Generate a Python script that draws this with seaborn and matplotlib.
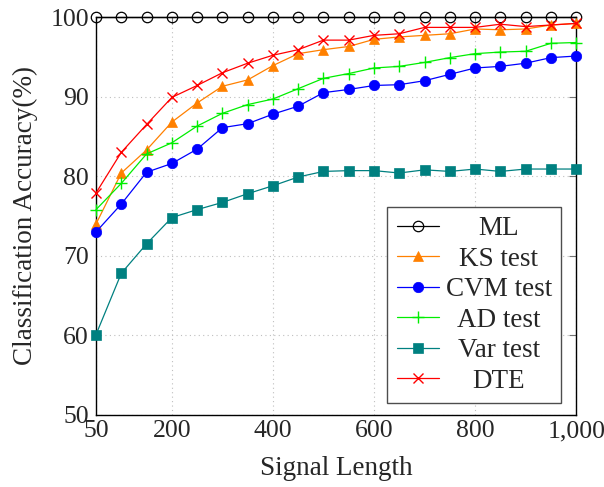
import matplotlib
matplotlib.use("Agg")
import matplotlib.pyplot as plt
import seaborn as sns
import pandas as pd

signal_length = [50, 100, 150, 200, 250, 300, 350, 400, 450, 500,
                 550, 600, 650, 700, 750, 800, 850, 900, 950, 1000]
ml = [100] * 20
ks = [74.0, 80.4, 83.3, 86.8, 89.2, 91.3, 92.1, 93.9, 95.4, 95.9,
      96.3, 97.2, 97.5, 97.7, 97.9, 98.5, 98.4, 98.5, 99.0, 99.2]
cvm = [73.0, 76.5, 80.5, 81.6, 83.4, 86.1, 86.6, 87.8, 88.8, 90.5,
       90.9, 91.4, 91.5, 92.0, 92.8, 93.6, 93.8, 94.2, 94.9, 95.1]
ad = [75.8, 79.1, 82.8, 84.2, 86.3, 87.9, 89.0, 89.7, 91.0, 92.3,
      92.9, 93.6, 93.8, 94.3, 94.9, 95.4, 95.6, 95.7, 96.7, 96.8]
var = [60.1, 67.8, 71.5, 74.8, 75.8, 76.7, 77.8, 78.8, 79.9, 80.6,
       80.7, 80.7, 80.4, 80.8, 80.6, 80.9, 80.6, 80.9, 80.9, 80.9]
dte = [77.9, 83.0, 86.5, 89.9, 91.4, 93.0, 94.2, 95.2, 95.9, 97.1,
       97.1, 97.7, 97.9, 98.7, 98.7, 98.7, 99.1, 98.8, 99.0, 99.2]

series_names = ["ML", "KS test", "CVM test", "AD test", "Var test", "DTE"]
series_values = [ml, ks, cvm, ad, var, dte]
x_ticks = [50, 200, 400, 600, 800, 1000]
x_tick_labels = ["50", "200", "400", "600", "800", "1,000"]
y_ticks = [50, 60, 70, 80, 90, 100]

sns.set_style("white")
plt.rcParams["font.family"] = ["Liberation Serif", "DejaVu Serif"]
plt.rcParams["mathtext.fontset"] = "dejavuserif"

styles = {
    "ML": dict(color="#000000", marker="o", mfc="none", ms=7.5, mew=0.9),
    "KS test": dict(color="#ff8000", marker="^", mfc="#ff8000", ms=7.5, mew=0.5),
    "CVM test": dict(color="#0000ff", marker="o", mfc="#0000ff", ms=7.5, mew=0.5),
    "AD test": dict(color="#00ee00", marker="+", mfc="#00ee00", ms=9, mew=1.0),
    "Var test": dict(color="#008080", marker="s", mfc="#008080", ms=7.5, mew=0.5),
    "DTE": dict(color="#ff0000", marker="x", mfc="#ff0000", ms=7, mew=1.0),
}

fig = plt.figure(figsize=(6.04, 4.87), dpi=100)
ax = fig.add_axes([0.159, 0.148, 0.795, 0.817])

for name, vals in zip(series_names, series_values):
    df = pd.DataFrame({"x": signal_length, "y": vals})
    st = styles[name]
    sns.lineplot(data=df, x="x", y="y", ax=ax, label=name,
                 color=st["color"], marker=st["marker"],
                 markerfacecolor=st["mfc"], markeredgecolor=st["color"],
                 markersize=st["ms"], markeredgewidth=st["mew"],
                 linewidth=0.9, clip_on=False, zorder=3)

ax.set_xlim(50, 1000)
ax.set_ylim(50, 100)
ax.set_xticks(x_ticks)
ax.set_xticklabels(x_tick_labels)
ax.set_yticks(y_ticks)
ax.tick_params(direction="in", top=True, right=True, length=5,
               color="0.45", labelsize=18.5)
ax.tick_params(axis="x", pad=4)
ax.tick_params(axis="y", pad=5)
ax.grid(True, linestyle=(0, (1, 3)), color="0.75", linewidth=0.8)
for sp in ax.spines.values():
    sp.set_color("black")
    sp.set_linewidth(1.0)

ax.set_xlabel("Signal Length", fontsize=19.5, labelpad=10)
ax.set_ylabel("Classification Accuracy(%)", fontsize=19.5, labelpad=9)

leg = ax.legend(loc="lower right", bbox_to_anchor=(0.969, 0.03),
                borderaxespad=0, fontsize=19.5, frameon=True, fancybox=False,
                edgecolor="0.3", framealpha=1, handlelength=1.55,
                labelspacing=0.2, handletextpad=0.25, borderpad=0.35)
leg.get_frame().set_linewidth(1.0)

# center legend texts within their column, as in the reference
fig.canvas.draw()
texts = leg.get_texts()
widths = [t.get_window_extent().width for t in texts]
maxw = max(widths)
for t, w in zip(texts, widths):
    t.set_x((maxw - w) / 2.0)

fig.savefig("out.png", dpi=100)
